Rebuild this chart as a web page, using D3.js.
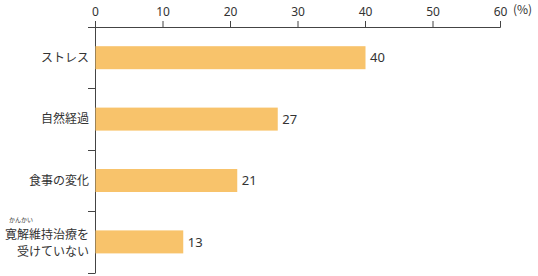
<!DOCTYPE html>
<html>
<head>
<meta charset="utf-8">
<script src="https://cdn.jsdelivr.net/npm/d3@7"></script>
<style>
  body { margin: 0; background: #fff; }
  text { font-family: "Noto Sans CJK JP", "Noto Sans", sans-serif; fill: #333; }
</style>
</head>
<body>
<div id="chart"></div>
<script>
// data
const categories = ["ストレス", "自然経過", "食事の変化", "寛解維持治療を受けていない"];
const values = [40, 27, 21, 13];
const tickValues = [0, 10, 20, 30, 40, 50, 60];

// label lines per category (last one wraps and has ruby)
const labelLines = [["ストレス"], ["自然経過"], ["食事の変化"], ["寛解維持治療を", "受けていない"]];
const rubyText = "かんかい";

const width = 538;
const height = 276;
const axisColor = "#444";
const barColor = "#f8c36b";

const svg = d3
  .select("#chart")
  .append("svg")
  .attr("width", width)
  .attr("height", height);

const x = d3.scaleLinear().domain([0, 60]).range([95, 500]);
const y = d3.scaleBand().domain(categories).range([27, 272.6]);
const barH = 23;

// top axis
const xAxis = d3
  .axisTop(x)
  .tickValues(tickValues)
  .tickSize(6.5)
  .tickPadding(5)
  .tickSizeOuter(0);

const gx = svg
  .append("g")
  .attr("transform", `translate(0,27.5)`)
  .call(xAxis);
gx.select(".domain").remove();
gx.append("line")
  .attr("x1", 88)
  .attr("x2", 500.5)
  .attr("stroke", axisColor);
gx.selectAll(".tick line").attr("stroke", axisColor);
gx.selectAll(".tick text")
  .style("font-size", "12px")
  .style("font-family", "'Noto Sans', sans-serif")
  .attr("fill", "#333");

svg
  .append("text")
  .attr("x", 513)
  .attr("y", 14)
  .style("font-size", "12px")
  .text("(%)");

// left axis line and separators
svg
  .append("line")
  .attr("x1", 95.5)
  .attr("x2", 95.5)
  .attr("y1", 27)
  .attr("y2", 273)
  .attr("stroke", axisColor);

svg
  .append("g")
  .selectAll("line")
  .data(categories)
  .join("line")
  .attr("x1", 88)
  .attr("x2", 95.5)
  .attr("y1", (d) => Math.round(y(d) + y.bandwidth()) + 0.5)
  .attr("y2", (d) => Math.round(y(d) + y.bandwidth()) + 0.5)
  .attr("stroke", axisColor);

// bars
svg
  .append("g")
  .selectAll("rect")
  .data(values)
  .join("rect")
  .attr("x", x(0) + 0.5)
  .attr("y", (d, i) => y(categories[i]) + y.bandwidth() / 2 - barH / 2)
  .attr("width", (d) => x(d) - x(0))
  .attr("height", barH)
  .attr("fill", barColor);

// value labels
svg
  .append("g")
  .selectAll("text")
  .data(values)
  .join("text")
  .attr("x", (d) => x(d) + 5)
  .attr("y", (d, i) => y(categories[i]) + y.bandwidth() / 2)
  .attr("dy", "0.36em")
  .style("font-size", "13px")
  .style("font-family", "'Noto Sans', sans-serif")
  .text((d) => d);

// category labels
const labels = svg
  .append("g")
  .selectAll("text")
  .data(categories)
  .join("text")
  .attr("text-anchor", "end")
  .style("font-size", "12px");

labels.each(function (d, i) {
  const lines = labelLines[i];
  const cy = y(d) + y.bandwidth() / 2 + (lines.length > 1 ? 1.5 : 0);
  const lh = 17;
  const t = d3.select(this);
  lines.forEach((ln, j) => {
    t.append("tspan")
      .attr("x", 89)
      .attr("y", cy + (j - (lines.length - 1) / 2) * lh)
      .attr("dy", "0.36em")
      .text(ln);
  });
});

// ruby over 寛解
const lastCy = y(categories[3]) + y.bandwidth() / 2;
svg
  .append("text")
  .attr("x", 21)
  .attr("y", lastCy - 19.5)
  .attr("text-anchor", "middle")
  .style("font-size", "6px")
  .text(rubyText);
</script>
</body>
</html>
